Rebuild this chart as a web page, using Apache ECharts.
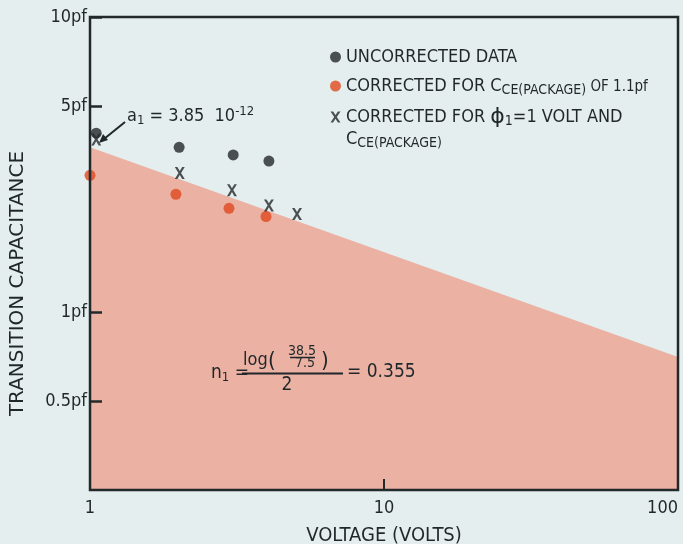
<!DOCTYPE html>
<html>
<head>
<meta charset="utf-8">
<title>Transition capacitance vs. voltage</title>
<script src="https://cdn.jsdelivr.net/npm/echarts@6/dist/echarts.min.js"></script>
<style>
  html, body { margin: 0; padding: 0; background: #e5eeee; }
  #chart { width: 683px; height: 544px; }
</style>
</head>
<body>
<div id="chart"></div>
<script>
// Measured points: [voltage (V), capacitance (pF)]
const uncorrected = [[1.05, 4.04], [2.01, 3.62], [3.07, 3.41], [4.06, 3.25]];
const correctedPackage = [[1.0, 2.91], [1.96, 2.51], [2.97, 2.25], [3.97, 2.11]];
const correctedPhi = [[1.05, 3.85], [2.02, 2.96], [3.04, 2.59], [4.06, 2.30], [5.06, 2.15]];
// Fitted power law C = a1 * V^-n1 bounding the shaded region
const fitLine = [[1, 3.62], [100, 0.706]];
// Capacitance axis marks (pF)
const capTicks = [0.5, 1, 5, 10];

const seriesNames = ['UNCORRECTED DATA', 'CORRECTED PACKAGE', 'CORRECTED PHI'];

const ink = '#1f272a';
const narrow = "'Liberation Sans Narrow', 'DejaVu Sans Condensed', 'Liberation Sans', sans-serif";
const wide = "'DejaVu Sans', 'Liberation Sans', sans-serif";
const crossPath = 'path://M0,0L2.6,0L5,3.6L7.4,0L10,0L6.3,5.4L10,11L7.4,11L5,7.2L2.6,11L0,11L3.7,5.4Z';

const chart = echarts.init(document.getElementById('chart'), null, { renderer: 'canvas' });

const legendText = {
  'UNCORRECTED DATA': '{t|UNCORRECTED DATA}',
  'CORRECTED PACKAGE': '{t|CORRECTED FOR C}{sub|CE(PACKAGE)}{of| OF 1.1pf}',
  'CORRECTED PHI': '{t|CORRECTED FOR }{phi|ϕ}{sub|1}{t|=1 VOLT AND}'
};

chart.setOption({
  backgroundColor: '#e5eeee',
  animation: false,
  grid: {
    left: 90, top: 17, right: 5, bottom: 54,
    outerBoundsMode: 'none', containLabel: false,
    show: true, z: 10,
    backgroundColor: 'transparent',
    borderColor: '#23282a', borderWidth: 2.5
  },
  xAxis: {
    type: 'log', logBase: 10, min: 1, max: 100, z: 10,
    name: 'VOLTAGE (VOLTS)', nameLocation: 'middle', nameGap: 36,
    nameTextStyle: { fontFamily: narrow, fontSize: 20, color: ink },
    axisLine: { show: false },
    axisTick: { inside: true, length: 11, lineStyle: { color: '#23282a', width: 2 } },
    axisLabel: { fontFamily: narrow, fontSize: 18, color: ink, margin: 9, alignMaxLabel: 'right' },
    splitLine: { show: false },
    minorTick: { show: false }
  },
  yAxis: {
    type: 'log', logBase: 10, min: 0.25, max: 10, z: 10,
    name: 'TRANSITION CAPACITANCE', nameLocation: 'middle', nameGap: 62,
    nameTextStyle: { fontFamily: wide, fontSize: 20, color: ink, padding: [0, 60, 0, 0] },
    axisLine: { show: false },
    axisTick: { inside: true, length: 12, customValues: capTicks, lineStyle: { color: '#23282a', width: 2.5 } },
    axisLabel: {
      customValues: capTicks, fontFamily: narrow, fontSize: 18, color: ink, margin: 3,
      formatter: v => v + 'pf'
    },
    splitLine: { show: false },
    minorTick: { show: false }
  },
  legend: {
    orient: 'vertical', left: 330, top: 48, padding: 0,
    itemWidth: 11, itemHeight: 11, itemGap: 9,
    data: [
      { name: seriesNames[0], icon: 'circle' },
      { name: seriesNames[1], icon: 'circle' },
      { name: seriesNames[2], icon: crossPath }
    ],
    formatter: name => legendText[name],
    textStyle: {
      color: ink,
      rich: {
        t: { fontFamily: narrow, fontSize: 18, color: ink, lineHeight: 20 },
        sub: { fontFamily: narrow, fontSize: 14, color: ink, lineHeight: 20, padding: [8, 0, 0, 0] },
        of: { fontFamily: narrow, fontSize: 15, color: ink, lineHeight: 20, padding: [3, 0, 0, 0] },
        phi: { fontFamily: wide, fontSize: 22, color: ink, lineHeight: 20 }
      }
    }
  },
  series: [
    {
      name: 'fit', type: 'line', data: fitLine, z: 1,
      symbol: 'none', silent: true,
      lineStyle: { width: 0 },
      areaStyle: { color: '#ebb1a3', opacity: 1, origin: 'start' }
    },
    {
      name: seriesNames[0], type: 'scatter', data: uncorrected, z: 4,
      symbol: 'circle', symbolSize: 11,
      itemStyle: { color: '#23282a' }
    },
    {
      name: seriesNames[1], type: 'scatter', data: correctedPackage, z: 4,
      symbol: 'circle', symbolSize: 11,
      itemStyle: { color: '#e0481f' }
    },
    {
      name: seriesNames[2], type: 'scatter', data: correctedPhi, z: 4,
      symbol: crossPath, symbolSize: [10, 12],
      itemStyle: { color: '#23282a' }
    }
  ],
  graphic: [
    // continuation of the third legend entry
    {
      type: 'text', left: 346, top: 128, z: 20,
      style: {
        rich: {
          t: { fontFamily: narrow, fontSize: 18, fill: ink, lineHeight: 20 },
          sub: { fontFamily: narrow, fontSize: 14, fill: ink, lineHeight: 20, padding: [8, 0, 0, 0] }
        },
        text: '{t|C}{sub|CE(PACKAGE)}'
      }
    },
    // a1 annotation with arrow
    {
      type: 'text', left: 127, top: 105, z: 20,
      style: {
        rich: {
          t: { fontFamily: narrow, fontSize: 18, fill: ink, lineHeight: 22 },
          sub: { fontFamily: narrow, fontSize: 13, fill: ink, lineHeight: 22, padding: [9, 0, 0, 0] },
          sup: { fontFamily: narrow, fontSize: 13, fill: ink, lineHeight: 22, padding: [0, 0, 10, 0] }
        },
        text: '{t|a}{sub|1}{t| = 3.85  10}{sup|-12}'
      }
    },
    {
      type: 'line', z: 20,
      shape: { x1: 125, y1: 122, x2: 104, y2: 139 },
      style: { stroke: ink, lineWidth: 2 }
    },
    {
      type: 'polygon', z: 20,
      shape: { points: [[99, 143], [103, 134], [108, 140]] },
      style: { fill: ink }
    },
    // exponent formula
    {
      type: 'text', left: 211, top: 362, z: 20,
      style: {
        rich: {
          t: { fontFamily: narrow, fontSize: 19, fill: ink, lineHeight: 22 },
          sub: { fontFamily: narrow, fontSize: 13, fill: ink, lineHeight: 22, padding: [9, 0, 0, 0] }
        },
        text: '{t|n}{sub|1}{t| =}'
      }
    },
    {
      type: 'text', left: 243, top: 351, z: 20,
      style: { text: 'log', fontFamily: narrow, fontSize: 18, fill: ink }
    },
    {
      type: 'text', left: 268, top: 350, z: 20,
      style: { text: '(', fontFamily: narrow, fontSize: 22, fill: ink }
    },
    {
      type: 'text', left: 321, top: 350, z: 20,
      style: { text: ')', fontFamily: narrow, fontSize: 22, fill: ink }
    },
    {
      type: 'text', x: 302, y: 351, z: 20,
      style: { text: '38.5', fontFamily: narrow, fontSize: 14, fill: ink, align: 'center', verticalAlign: 'middle' }
    },
    {
      type: 'line', z: 20,
      shape: { x1: 290, y1: 357.5, x2: 315, y2: 357.5 },
      style: { stroke: ink, lineWidth: 1.5 }
    },
    {
      type: 'text', x: 305, y: 363, z: 20,
      style: { text: '7.5', fontFamily: narrow, fontSize: 14, fill: ink, align: 'center', verticalAlign: 'middle' }
    },
    {
      type: 'line', z: 20,
      shape: { x1: 242, y1: 373.5, x2: 343, y2: 373.5 },
      style: { stroke: ink, lineWidth: 2 }
    },
    {
      type: 'text', x: 287, y: 385, z: 20,
      style: { text: '2', fontFamily: narrow, fontSize: 19, fill: ink, align: 'center', verticalAlign: 'middle' }
    },
    {
      type: 'text', left: 347, top: 363, z: 20,
      style: { text: '= 0.355', fontFamily: narrow, fontSize: 19, fill: ink }
    }
  ]
});
</script>
</body>
</html>
